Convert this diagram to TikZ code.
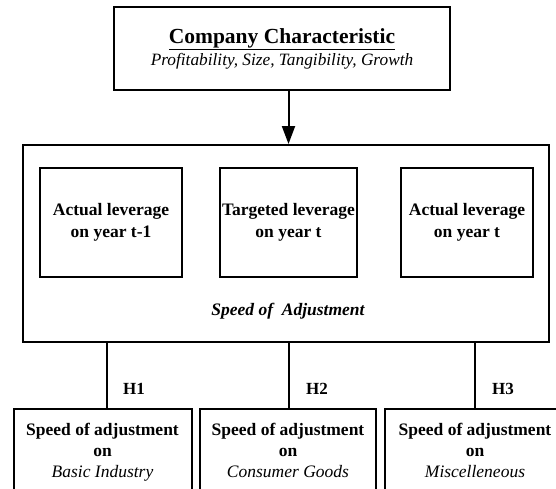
\documentclass[tikz,border=0pt]{standalone}
\usepackage{fontspec}
\setmainfont{Liberation Serif}
\usetikzlibrary{arrows.meta}

\begin{document}
\begin{tikzpicture}[
    x=1pt, y=-1pt,
    font=\fontsize{17.5}{22}\selectfont\bfseries,
    every node/.style={align=center},
    box/.style={
        rectangle,
        draw=black,
        line width=2pt,
        inner sep=0pt
    },
    innerbox/.style={
        box,
        minimum height=109pt
    },
    sectorbox/.style={
        box,
        minimum width=178pt,
        minimum height=86pt,
        font=\fontsize{17.5}{21}\selectfont\bfseries
    },
    line/.style={draw, line width=2pt},
    arrow/.style={draw, line width=2pt, -{Triangle[length=18pt,width=13pt]}},
    hlab/.style={font=\fontsize{17}{20}\selectfont\bfseries},
]
\useasboundingbox (0,0) rectangle (556,488);
\clip (0,0) rectangle (556,488);

% Top node
\node[box, minimum width=336pt, minimum height=83pt] (firm) at (282,48.5)
    {\fontsize{21.5}{20}\selectfont\underline{Company Characteristic}\\
     \fontsize{17.3}{20}\selectfont\mdseries\itshape Profitability, Size, Tangibility, Growth};

% Middle frame
\node[box, minimum width=526pt, minimum height=197pt] (frame) at (286,243.5) {};

% Leverage boxes
\node[innerbox, minimum width=142pt] (lagged) at (111,222.5) {Actual leverage\\on year t-1};
\node[innerbox, minimum width=137pt] (target) at (288.5,222.5) {Targeted leverage\\on year t};
\node[innerbox, minimum width=132pt] (actual) at (467,222.5) {Actual leverage\\on year t};

\node (soa) at (288,311) {\itshape Speed of \ Adjustment};

% Sector boxes
\node[sectorbox] (basic) at (102.5,452) {Speed of adjustment\\on\\\mdseries\itshape Basic Industry\vphantom{y}};
\node[sectorbox, minimum width=176pt] (goods) at (288,452) {Speed of adjustment\\on\\\mdseries\itshape Consumer Goods\vphantom{y}};
\node[sectorbox, minimum width=180pt] (misc) at (475,452) {Speed of adjustment\\on\\\mdseries\itshape Miscelleneous\vphantom{y}};

% Hypothesis labels
\node[hlab] (h1) at (134,388.5) {H1};
\node[hlab] (h2) at (317,388.5) {H2};
\node[hlab] (h3) at (503,388.5) {H3};

% Connections
\draw[arrow] (target.north |- firm.south) -- (target.north |- frame.north);

\draw[line] ([xshift=4.5pt]basic.north) -- ([xshift=4.5pt]basic.north |- frame.south);
\draw[line] ([xshift=1pt]goods.north) -- ([xshift=1pt]goods.north |- frame.south);
\draw[line] (misc.north) -- (misc.north |- frame.south);

\end{tikzpicture}
\end{document}
